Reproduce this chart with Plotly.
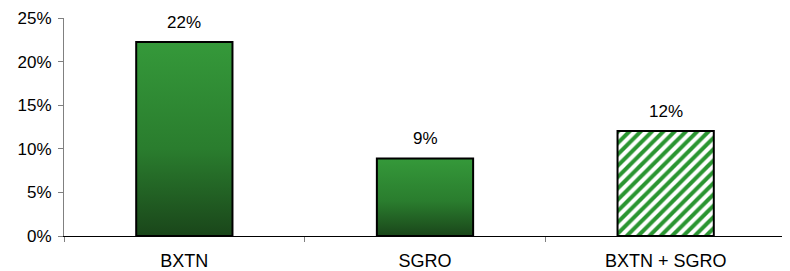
import plotly.graph_objects as go

categories = ["BXTN", "SGRO", "BXTN + SGRO"]
values = [22.25, 8.9, 12.05]
labels = ["22%", "9%", "12%"]
hatched = [False, False, True]

BAR_W = 0.4
GRAD = [[0, "#1a461a"], [0.45, "#2a7d2e"], [1, "#35993a"]]

fig = go.Figure()

for i, (cat, v, h) in enumerate(zip(categories, values, hatched)):
    if h:
        fig.add_trace(go.Bar(
            x=[i], y=[v], width=BAR_W,
            marker=dict(color="white",
                        line=dict(color="black", width=2),
                        pattern=dict(shape="/", fgcolor="#2a9531", bgcolor="white",
                                     size=8, solidity=0.5, fgopacity=1,
                                     fillmode="replace")),
            hoverinfo="skip", showlegend=False))
    else:
        x0, x1 = i - BAR_W / 2, i + BAR_W / 2
        fig.add_trace(go.Scatter(
            x=[x0, x1, x1, x0, x0], y=[0, 0, v, v, 0],
            mode="lines", fill="toself",
            fillgradient=dict(type="vertical", colorscale=GRAD),
            line=dict(color="black", width=2),
            hoverinfo="skip", showlegend=False))
    fig.add_annotation(x=i, y=v, text=labels[i], showarrow=False,
                       yanchor="bottom", yshift=8,
                       font=dict(size=17, color="black"))

# page body has an 8px margin: size the figure so it fits the 790x271 window
fig.update_layout(
    width=782, height=263,
    margin=dict(l=56, r=4, t=10, b=35),
    paper_bgcolor="white", plot_bgcolor="white",
    font=dict(family="Liberation Sans, Arial, sans-serif", size=17, color="black"),
    showlegend=False,
)
fig.update_xaxes(
    range=[-0.5, 2.5], tickmode="array", tickvals=[0, 1, 2], ticktext=categories,
    ticks="", showgrid=False, zeroline=False, automargin=False,
    tickfont=dict(size=18),
    showline=True, linecolor="black", linewidth=1,
    minor=dict(tickmode="array", tickvals=[-0.5, 0.5, 1.5, 2.5], ticks="outside",
               ticklen=5, tickcolor="#808080", tickwidth=1, showgrid=False),
    ticklabelstandoff=8,
)
fig.update_yaxes(
    range=[0, 25], dtick=5, ticksuffix="%", ticks="outside", ticklen=5,
    tickcolor="#808080", showgrid=False, zeroline=False, automargin=False,
    showline=True, linecolor="#808080", linewidth=1,
    ticklabelstandoff=3,
)

fig.write_html("out.html")
